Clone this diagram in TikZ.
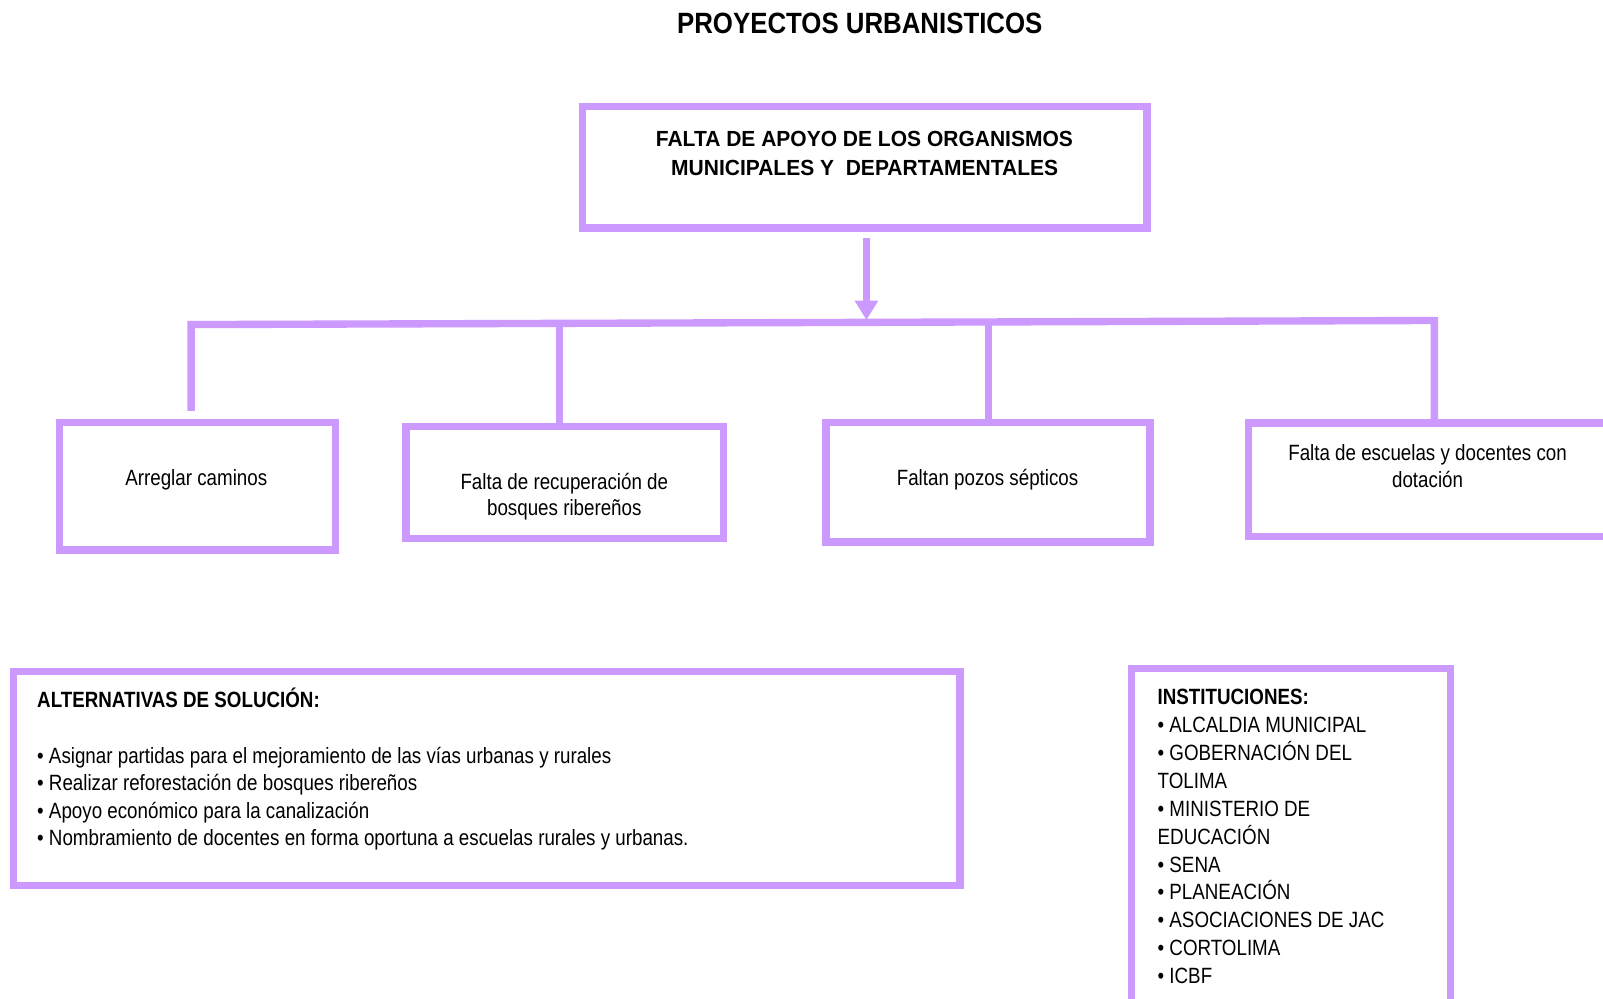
\documentclass[tikz,border=0pt]{standalone}
\usepackage{fontspec}
\setmainfont{Liberation Sans}[FakeStretch=0.85]
\newfontfamily\titlefont{Liberation Sans}[FakeStretch=0.88]
\newfontfamily\headfont{Liberation Sans}[FakeStretch=0.96]
\usetikzlibrary{arrows.meta}
\definecolor{lila}{RGB}{204,153,255}
\begin{document}
\begin{tikzpicture}[x=0.5pt,y=-0.5pt,
  box/.style={draw=lila,line width=3.6pt,inner sep=0pt},
  conn/.style={draw=lila,line width=3.6pt,line join=miter},
  rt/.style={font=\fontsize{10.8}{13}\selectfont,inner sep=0pt,anchor=base},
  lt/.style={rt,anchor=base west},
  hd/.style={rt,font=\headfont\bfseries\fontsize{10.7}{13}\selectfont}]
\useasboundingbox (0,0) rectangle (1568,977);
\fill[white] (0,0) rectangle (1568,977);

% title
\node[rt,font=\titlefont\bfseries\fontsize{14.35}{17}\selectfont] (title) at (841,32.3) {PROYECTOS URBANISTICOS};

% top box
\node[box,minimum width=276pt,minimum height=59.5pt] (top) at (846,163.5) {};
\node[hd] (top1) at (845.5,143) {FALTA DE APOYO DE LOS ORGANISMOS};
\node[hd] (top2) at (845.8,171.5) {MUNICIPALES Y\ \ DEPARTAMENTALES};

% second row boxes
\node[box,minimum width=135pt,minimum height=62.5pt] (b1) at (193,475.5) {};
\node[box,minimum width=155.5pt,minimum height=55pt] (b2) at (552.5,472) {};
\node[box,minimum width=158.5pt,minimum height=58.5pt] (b3) at (966.5,471.5) {};
\node[box,minimum width=209.25pt,minimum height=55.4pt] (b4) at (1430.75,469.1) {};

\node[rt] (t1) at (192,474.5) {Arreglar caminos};
\node[rt] (t2a) at (552,478.5) {Falta de recuperación de};
\node[rt] (t2b) at (552,504.5) {bosques ribereños};
\node[rt] (t3) at (966,474.5) {Faltan pozos sépticos};
\node[rt] (t4a) at (1396.4,450.6) {Falta de escuelas y docentes con};
\node[rt] (t4b) at (1396.4,477) {dotación};

% connectors
\coordinate (a0) at (847.5,233);
\coordinate (a1) at (847.5,313);
\draw[conn,-{Triangle[width=11pt,length=9.5pt]}] (a0) -- (a1);
\coordinate (jl) at (187,317.5);
\coordinate (jr) at (1403,313.5);
\coordinate (el) at (187,402);
\draw[conn] (el) -- (jl) -- (jr) -- (jr |- b4.north);
\coordinate (j2) at (547,316.3);
\draw[conn] (j2) -- (j2 |- b2.north);
\coordinate (j3) at (967,314.9);
\draw[conn] (j3) -- (j3 |- b3.north);

% alternatives box
\node[box,minimum width=463pt,minimum height=104.5pt] (b5) at (476,761.5) {};
\node[lt,font=\bfseries\fontsize{10.8}{13}\selectfont] (alth) at (36,692) {ALTERNATIVAS DE SOLUCIÓN:};
\node[lt] (al1) at (36,746.5) {• Asignar partidas para el mejoramiento de las vías urbanas y rurales};
\node[lt] (al2) at (36,773.5) {• Realizar reforestación de bosques ribereños};
\node[lt] (al3) at (36,800.5) {• Apoyo económico para la canalización};
\node[lt] (al4) at (36,827.5) {• Nombramiento de docentes en forma oportuna a escuelas rurales y urbanas.};

% institutions box
\node[box,minimum width=156pt,minimum height=193pt] (b6) at (1263,847) {};
\node[lt,font=\bfseries\fontsize{10.8}{13}\selectfont] (insh) at (1132,689.6) {INSTITUCIONES:};
\foreach \t [count=\i] in {{• ALCALDIA MUNICIPAL},{• GOBERNACIÓN DEL},{TOLIMA},{• MINISTERIO DE},{EDUCACIÓN},{• SENA},{• PLANEACIÓN},{• ASOCIACIONES DE JAC},{• CORTOLIMA},{• ICBF}}
  \node[lt] (ins\i) at (1132,689.6+27.24*\i) {\t};
\end{tikzpicture}
\end{document}
